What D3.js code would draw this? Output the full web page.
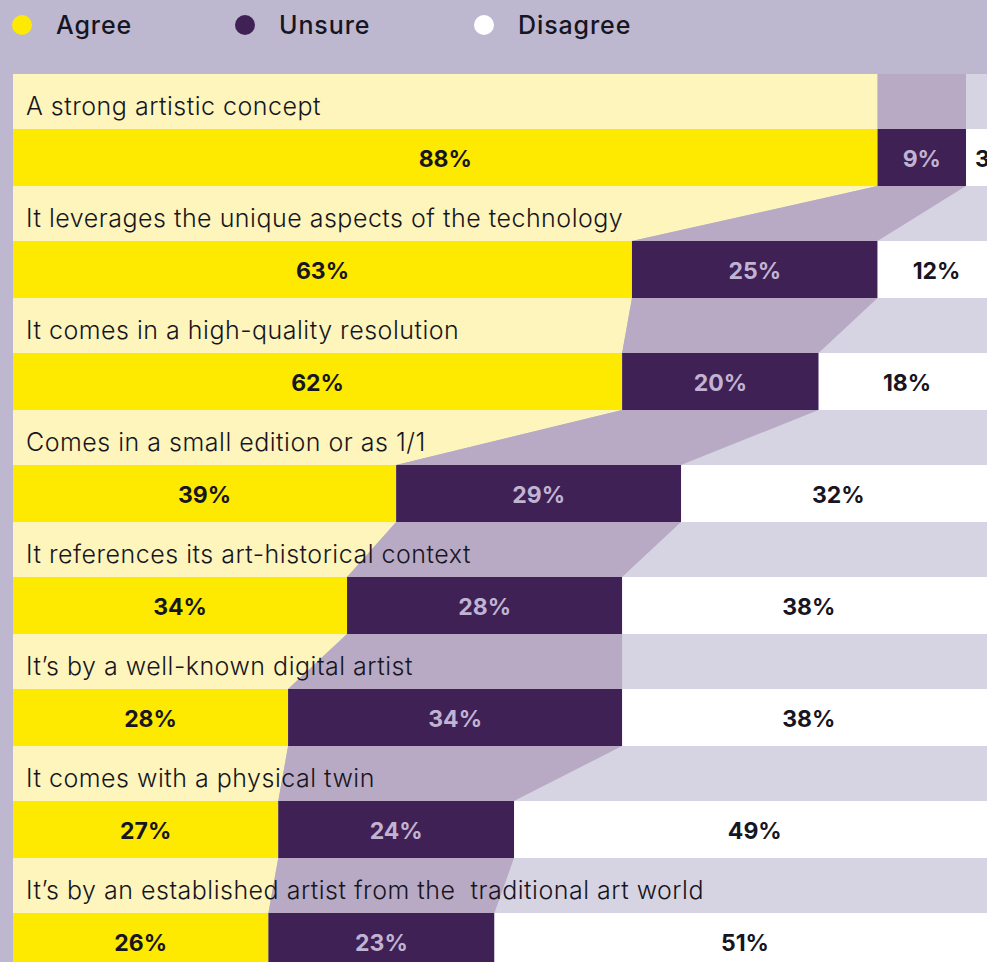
<!DOCTYPE html>
<html>
<head>
<meta charset="utf-8">
<script src="https://cdn.jsdelivr.net/npm/d3@7"></script>
<style>
  html, body { margin: 0; padding: 0; background: #bdb8d0; overflow: hidden; }
  svg { display: block; }
</style>
</head>
<body>
<script>
// chart size
const width = 987;
const height = 962;

// data
const labels = [
  "A strong artistic concept",
  "It leverages the unique aspects of the technology",
  "It comes in a high-quality resolution",
  "Comes in a small edition or as 1/1",
  "It references its art-historical context",
  "It\u2019s by a well-known digital artist",
  "It comes with a physical twin",
  "It\u2019s by an established artist from the  traditional art world"
];
const agree = [88, 63, 62, 39, 34, 28, 27, 26];
const unsure = [9, 25, 20, 29, 28, 34, 24, 23];
const disagree = [3, 12, 18, 32, 38, 38, 49, 51];
const seriesNames = ["Agree", "Unsure", "Disagree"];

// colours per series: bar, tint, text
const barColor = ["#fdea00", "#3f2156", "#ffffff"];
const tintColor = ["#fdf5bc", "#b8aac4", "#d6d4e2"];
const textColor = ["#17151f", "#c1b4d2", "#17151f"];

const labelH = 55;

const svg = d3.select("body").append("svg")
  .attr("width", width)
  .attr("height", height);

const x = d3.scaleLinear().domain([0, 100]).range([13, 995.5]);
const y = d3.scaleBand().domain(d3.range(labels.length)).range([74, 74 + 112 * labels.length]);

// stacked rows
const rows = labels.map((name, i) => {
  const vals = [agree[i], unsure[i], disagree[i]];
  let acc = 0;
  const segs = vals.map((v, k) => {
    const s = { k, v, x0: acc, x1: acc + v };
    acc += v;
    return s;
  });
  return { name, i, segs };
});

// label band: trapezoids joining previous bar to current bar
const bands = svg.append("g").attr("class", "bands");
rows.forEach(r => {
  const prev = r.i > 0 ? rows[r.i - 1] : r;
  const top = y(r.i), bot = y(r.i) + labelH;
  r.segs.forEach(s => {
    const p = prev.segs[s.k];
    const x0t = s.k === 0 ? 0 : p.x0;
    const x0b = s.k === 0 ? 0 : s.x0;
    const x1t = s.k === 2 ? 110 : p.x1;
    const x1b = s.k === 2 ? 110 : s.x1;
    bands.append("path")
      .attr("d", `M${x(x0t)},${top}L${x(x1t)},${top}L${x(x1b)},${bot}L${x(x0b)},${bot}Z`)
      .attr("fill", tintColor[s.k]);
  });
  bands.append("text")
    .attr("x", 26)
    .attr("y", top + 41)
    .attr("font-family", "Inter, 'Open Sans', sans-serif")
    .attr("font-weight", 300)
    .attr("font-size", 25)
    .attr("letter-spacing", 0.5)
    .attr("fill", "#17151f")
    .style("white-space", "pre")
    .text(r.name);
});

// bars
const bars = svg.append("g").attr("class", "bars");
rows.forEach(r => {
  const top = y(r.i) + labelH, h = y.bandwidth() - labelH;
  bars.selectAll(null)
    .data(r.segs)
    .enter()
    .append("rect")
    .attr("x", d => x(d.x0))
    .attr("y", top)
    .attr("width", d => x(d.x1) - x(d.x0) + (d.k === 2 ? 20 : 0))
    .attr("height", h)
    .attr("fill", d => barColor[d.k]);
  // narrow segments: value starts just inside the segment instead of centred
  bars.selectAll(null)
    .data(r.segs)
    .enter()
    .append("text")
    .attr("x", d => d.v < 5 ? x(d.x0) + 9 : (x(d.x0) + x(d.x1)) / 2)
    .attr("y", top + h / 2 + 9)
    .attr("text-anchor", d => d.v < 5 ? "start" : "middle")
    .attr("font-family", "Inter, 'Open Sans', sans-serif")
    .attr("font-weight", 700)
    .attr("font-size", 23)
    .attr("fill", d => textColor[d.k])
    .text(d => d.v + "%");
});

// legend
const legendX = [22, 245, 484];
const legend = svg.append("g").attr("class", "legend");
seriesNames.forEach((n, k) => {
  legend.append("circle")
    .attr("cx", legendX[k])
    .attr("cy", 25)
    .attr("r", 10)
    .attr("fill", k === 2 ? "#ffffff" : barColor[k]);
  legend.append("text")
    .attr("x", legendX[k] + 34)
    .attr("y", 34)
    .attr("font-family", "Inter, 'Open Sans', sans-serif")
    .attr("font-weight", 500)
    .attr("font-size", 25)
    .attr("letter-spacing", 0.9)
    .attr("fill", "#17151f")
    .text(n);
});
</script>
</body>
</html>
